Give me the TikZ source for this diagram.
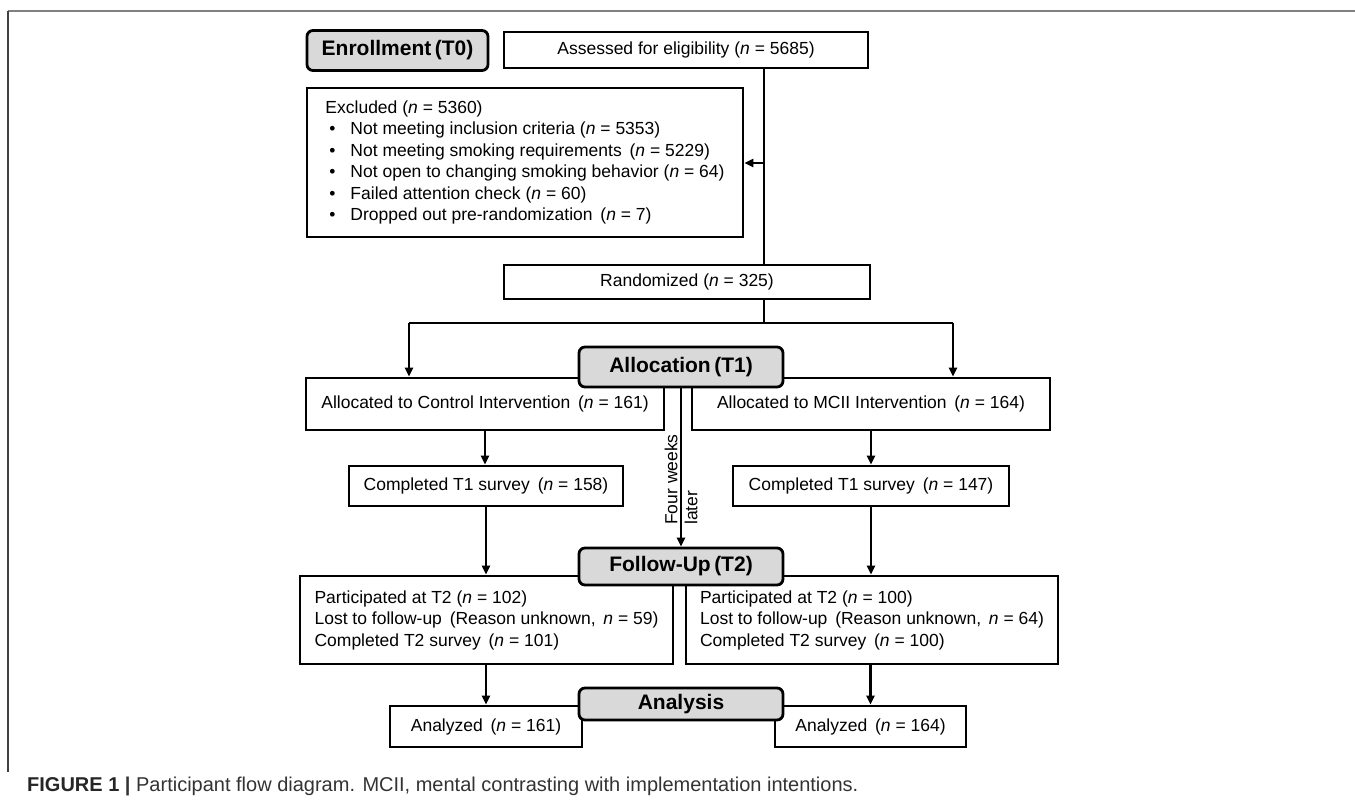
\documentclass[tikz,border=0pt]{standalone}
\usepackage{fontspec}
\setmainfont{Liberation Sans}
\usetikzlibrary{arrows.meta}
\definecolor{lblgray}{HTML}{D9D9D9}
\definecolor{capgray}{HTML}{333333}
\newcommand{\nI}{\textit{n}}
\newcommand{\bul}{\hspace*{4pt}\makebox[21pt][l]{•}}
\begin{document}
\begin{tikzpicture}[x=1pt,y=-1pt,
  box/.style={draw, line width=2.8pt, fill=white, inner sep=0pt, align=center,
    font=\fontsize{17.5}{21.5}\selectfont},
  lbl/.style={draw, line width=2.8pt, fill=lblgray, rounded corners=6pt, inner sep=0pt,
    font=\fontsize{21}{24}\selectfont\bfseries},
  conn/.style={line width=2.2pt},
  arr/.style={conn, -{Triangle[length=9pt,width=8pt]}},
]
\useasboundingbox (0,0) rectangle (1355,808);
% frame
\draw[line width=2pt, color=gray] (8,11) -- (1355,11);
\draw[line width=2pt, color=darkgray] (8,11) -- (8,772);

% regular boxes
\node[box, minimum width=364pt, minimum height=36pt] (assess) at (686,50) {Assessed for eligibility (\nI{} = 5685)};
\node[box, minimum width=436pt, minimum height=149pt, align=left] (excl) at (525,162.5)
 {Excluded (\nI{} = 5360)\\
  \bul Not meeting inclusion criteria (\nI{} = 5353)\\
  \bul Not meeting smoking requirements\, (\nI{} = 5229)\\
  \bul Not open to changing smoking behavior (\nI{} = 64)\\
  \bul Failed attention check (\nI{} = 60)\\
  \bul Dropped out pre-randomization\, (\nI{} = 7)};
\node[box, minimum width=366pt, minimum height=34pt] (rand) at (687,282) {Randomized (\nI{} = 325)};
\node[box, minimum width=358pt, minimum height=52pt] (ctrl) at (485,404) {Allocated to Control Intervention\, (\nI{} = 161)};
\node[box, minimum width=358pt, minimum height=52pt] (mcii) at (871,404) {Allocated to MCII Intervention\, (\nI{} = 164)};
\node[box, minimum width=274pt, minimum height=40pt] (t1l) at (486,486) {Completed T1 survey\, (\nI{} = 158)};
\node[box, minimum width=276pt, minimum height=40pt] (t1r) at (871,486) {Completed T1 survey\, (\nI{} = 147)};
\node[box, minimum width=373pt, minimum height=88pt, align=left] (t2l) at (486.5,620)
 {Participated at T2 (\nI{} = 102)\\
  Lost to follow-up\, (Reason unknown,\, \nI{} = 59)\\
  Completed T2 survey\, (\nI{} = 101)};
\node[box, minimum width=372pt, minimum height=88pt, align=left] (t2r) at (872,620)
 {Participated at T2 (\nI{} = 100)\\
  Lost to follow-up\, (Reason unknown,\, \nI{} = 64)\\
  Completed T2 survey\, (\nI{} = 100)};
\node[box, minimum width=192pt, minimum height=41pt] (anl) at (486,726.5) {Analyzed\, (\nI{} = 161)};
\node[box, minimum width=191pt, minimum height=41pt] (anr) at (870.5,726.5) {Analyzed\, (\nI{} = 164)};

% junction coordinates
\coordinate (vx) at (764,0);
\coordinate (jex) at (764,163);
\coordinate (jr) at (764,323);
\coordinate (bl) at (409,323);
\coordinate (br) at (953,323);

% connectors
\draw[conn] (assess.south -| vx) -- (rand.north -| vx);
\draw[arr] (jex) -- (jex -| excl.east);
\draw[conn] (rand.south -| vx) -- (jr);
\draw[conn] (bl) -- (br);
\draw[arr] (bl) -- (bl |- ctrl.north);
\draw[arr] (br) -- (br |- mcii.north);
\draw[arr] (ctrl.south) -- (ctrl.south |- t1l.north);
\draw[arr] (mcii.south) -- (mcii.south |- t1r.north);
\draw[arr] (t1l.south) -- (t1l.south |- t2l.north);
\draw[arr] (t1r.south) -- (t1r.south |- t2r.north);
\draw[arr] (t2l.south -| anl.north) -- (anl.north);
\draw[arr] (t2r.south -| anr.north) -- (anr.north);

% label boxes
\node[lbl, minimum width=181pt, minimum height=40pt] (enroll) at (397.5,50.5) {Enrollment\,(T0)};
\node[lbl, minimum width=204pt, minimum height=40pt] (alloc) at (681,367) {Allocation\,(T1)};
\node[lbl, minimum width=204pt, minimum height=37pt] (fu) at (681,566.5) {Follow-Up\,(T2)};
\node[lbl, minimum width=204pt, minimum height=32pt] (an) at (681,704) {Analysis};

\draw[arr] (alloc.south) -- (fu.north);
\node[rotate=90, anchor=west, align=left, inner sep=0pt, font=\fontsize{17.5}{20}\selectfont] (fw) at (681,525) {Four weeks\\later};

% caption
\node[anchor=base west, inner sep=0pt, text=capgray, font=\fontsize{20}{24}\selectfont] (cap) at (27,791)
 {\textbf{\color{black!85}FIGURE 1} \textbf{|} Participant flow diagram. MCII, mental contrasting with implementation intentions.};
\end{tikzpicture}
\end{document}
